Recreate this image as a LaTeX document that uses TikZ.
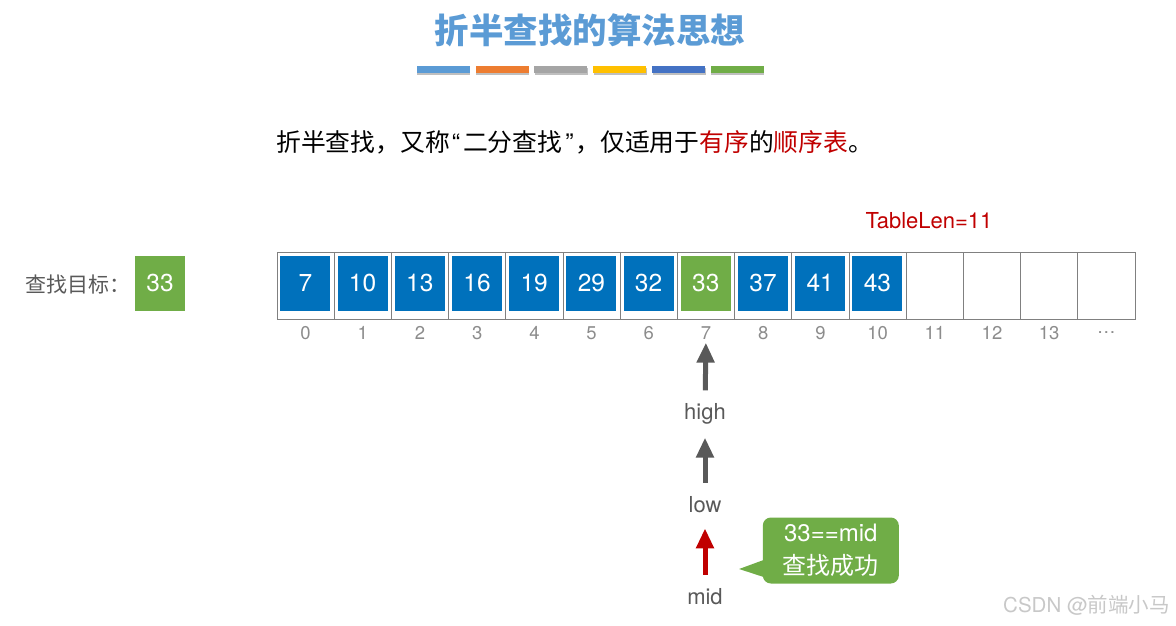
\documentclass[tikz,border=0pt]{standalone}
\usepackage{fontspec}
\setmainfont{TeX Gyre Heros}
\newfontfamily\cjk{Noto Sans CJK SC}
\usetikzlibrary{arrows.meta,calc,shadows}
\definecolor{tblue}{HTML}{0071BC}
\definecolor{tgreen}{HTML}{70AD47}
\definecolor{tred}{HTML}{C00000}
\definecolor{titleblue}{HTML}{5B9BD5}
\definecolor{dgray}{HTML}{595959}
\definecolor{idxgray}{HTML}{8C8C8C}
\definecolor{linegray}{HTML}{808080}
\definecolor{wmgray}{HTML}{C8C8C8}
\definecolor{barA}{HTML}{5B9BD5}
\definecolor{barB}{HTML}{ED7D31}
\definecolor{barC}{HTML}{A5A5A5}
\definecolor{barD}{HTML}{FFC000}
\definecolor{barE}{HTML}{4472C4}
\definecolor{barF}{HTML}{70AD47}
\begin{document}
\begin{tikzpicture}[x=1pt,y=-1pt,
  cellbox/.style={draw=linegray, line width=0.9pt, minimum width=57.2pt, minimum height=66.6pt, inner sep=0pt},
  valbox/.style={fill=#1, minimum width=50pt, minimum height=55pt, inner sep=0pt, text=white, font=\fontsize{24.5}{28}\selectfont},
  idx/.style={text=idxgray, font=\fontsize{18.5}{22}\selectfont, inner sep=0pt},
  ptr/.style={text=dgray, font=\fontsize{22}{26}\selectfont, inner sep=0pt},
  arr/.style={draw=#1, line width=5pt, -{Triangle[length=20pt,width=17pt,fill=#1]}},
  bar/.style={fill=#1, minimum width=53pt, minimum height=7pt, inner sep=0pt,
    drop shadow={opacity=0.25, shadow xshift=0.5pt, shadow yshift=-2pt, fill=black}},
]
\useasboundingbox (0,0) rectangle (1176,626);
% title
\node[font=\cjk\bfseries\fontsize{34.5}{38}\selectfont, text=titleblue] (title) at (590,30) {折半查找的算法思想};
\foreach \c [count=\k from 0] in {barA,barB,barC,barD,barE,barF}
  \node[bar=\c] (bar\k) at (443.3+58.8*\k,70) {};
% subtitle
\node[font=\cjk\fontsize{24.8}{28}\selectfont, anchor=west, inner sep=0pt] (sub) at (276,142)
  {折半查找，又称{\rmfamily\kern2pt“\kern3pt}二分查找{\rmfamily\kern3pt”\kern2pt}，仅适用于\textcolor{tred}{有序}的\textcolor{tred}{顺序表}。};
% table length
\node[text=tred, font=\fontsize{22}{26}\selectfont, inner sep=0pt] (tl) at (929,221) {TableLen=11};
% target
\node[ptr, font=\cjk\fontsize{21}{24}\selectfont, anchor=west] (tgtlabel) at (25,285) {查找目标：};
\node[valbox=tgreen] (tgt) at (160,283.2) {33};
% cells
\foreach \i in {0,...,14}
  \node[cellbox] (c\i) at (305.6+57.2*\i,285.7) {};
\foreach \v/\c [count=\i from 0] in {7/tblue,10/tblue,13/tblue,16/tblue,19/tblue,29/tblue,32/tblue,33/tgreen,37/tblue,41/tblue,43/tblue}
  \node[valbox=\c] (v\i) at (305.4+57.2*\i,283.2) {\v};
\foreach \t [count=\i from 0] in {0,1,2,3,4,5,6,7,8,9,10,11,12,13,…}
  \node[idx] (i\i) at (305.6+57.2*\i,333) {\t};
% pointers
\node[ptr] (high) at (705,414) {high};
\node[ptr] (low) at (705,505) {low};
\node[ptr] (mid) at (705,597) {mid};
\draw[arr=dgray, shorten <=13pt, shorten >=3pt] (high) -- (i7);
\draw[arr=dgray, shorten <=14pt, shorten >=13pt] (low) -- (high);
\draw[arr=tred, shorten <=14pt, shorten >=15pt] (mid) -- (low);
% callout
\node[fill=tgreen, rounded corners=8pt, minimum width=136pt, minimum height=66pt, inner sep=0pt,
  text=white, align=center, font=\fontsize{24}{33}\selectfont] (call) at (830.8,550.5)
  {33==mid\\{\cjk 查找成功}};
\fill[tgreen] ($(call.west)+(1,9.5)$) -- ($(call.west)+(-23.5,18.5)$) -- ($(call.west)+(1,26.5)$) -- cycle;
% watermark
\node[text=wmgray, font=\fontsize{20.5}{24}\selectfont, anchor=east, inner sep=0pt] (wm) at (1170,605) {CSDN @{\cjk 前端小马}};
\end{tikzpicture}
\end{document}
